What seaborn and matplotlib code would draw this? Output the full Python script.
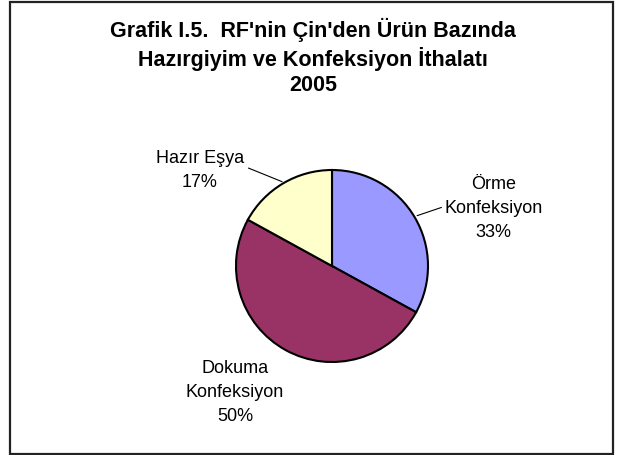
import numpy as np
import matplotlib
matplotlib.use("Agg")
import matplotlib.pyplot as plt
import seaborn as sns
from matplotlib.patches import Rectangle

sns.set_theme(style="white")
plt.rcParams['font.family'] = ['Liberation Sans', 'DejaVu Sans']

categories = ["Örme\nKonfeksiyon", "Dokuma\nKonfeksiyon", "Hazır Eşya"]
values = [33, 50, 17]
colors = ["#9999FF", "#993366", "#FFFFCC"]
title = "Grafik I.5.  RF'nin Çin'den Ürün Bazında\nHazırgiyim ve Konfeksiyon İthalatı\n2005"

W, H = 617, 455
fig = plt.figure(figsize=(W / 100, H / 100), dpi=100)
fig.patch.set_facecolor("white")

# frame
fig.add_artist(Rectangle((10 / W, 1 - 454 / H), 603 / W, 452 / H, transform=fig.transFigure,
                         fill=False, edgecolor="#222222", linewidth=1.6))

cx, cy, r = 332, 266, 96
ax = fig.add_axes([(cx - r) / W, (H - cy - r) / H, 2 * r / W, 2 * r / H])
wedges, _ = ax.pie(values, colors=colors, startangle=90, counterclock=False,
                   wedgeprops=dict(edgecolor="black", linewidth=1.5))
ax.set_xlim(-1, 1)
ax.set_ylim(-1, 1)
ax.set_aspect("equal")
ax.axis("off")

# labels (position in pie-radius units), leader line ends
label_pos = [(1.68, 0.60), (-1.01, -1.32), (-1.375, 0.995)]
leaders = [((1.14, 0.61), 1.03), None, ((-0.87, 1.02), 1.02)]
for i, (lab, v) in enumerate(zip(categories, values)):
    txt = f"{lab}\n{v}%"
    lx, ly = label_pos[i]
    ax.text(lx, ly, txt, ha="center", va="center", fontsize=13, color="black",
            linespacing=1.55, clip_on=False)
    if leaders[i] is not None:
        (ex, ey), rr = leaders[i]
        w = wedges[i]
        mid = np.deg2rad((w.theta1 + w.theta2) / 2)
        ax.plot([rr * np.cos(mid), ex], [rr * np.sin(mid), ey], color="black",
                linewidth=0.8, clip_on=False)

fig.text(313 / W, 1 - 57 / H, title, ha="center", va="center", fontsize=15.5,
         fontweight="bold", linespacing=1.25, color="black")

fig.savefig("out.png", dpi=100, facecolor="white")
